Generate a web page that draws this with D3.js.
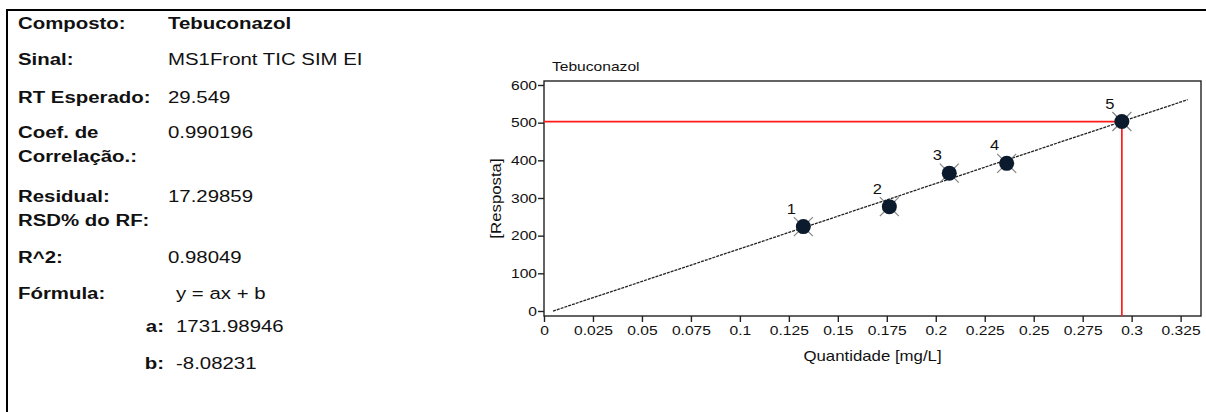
<!DOCTYPE html>
<html>
<head>
<meta charset="utf-8">
<script src="https://cdn.jsdelivr.net/npm/d3@7"></script>
<style>
  html, body { margin: 0; padding: 0; background: #fff; }
  svg { display: block; font-family: "Liberation Sans", Arial, sans-serif; }
</style>
</head>
<body>
<svg id="chart" width="1206" height="412"></svg>
<script>
// Calibration summary
const infoLabels = ["Composto:", "Sinal:", "RT Esperado:", "Coef. de\nCorrelação.:", "Residual:", "RSD% do RF:", "R^2:", "Fórmula:"];
const infoValues = ["Tebuconazol", "MS1Front TIC SIM EI", "29.549", "0.990196", "17.29859", "", "0.98049", "y = ax + b"];
const coefNames = ["a:", "b:"];
const coefValues = [1731.98946, -8.08231];

// Calibration levels
const levels = ["1", "2", "3", "4", "5"];
const quantidade = [0.1324, 0.1763, 0.2069, 0.2362, 0.2950];
const resposta = [224, 277, 366, 392, 503];

// Axis ticks
const xTicks = [0, 0.025, 0.05, 0.075, 0.1, 0.125, 0.15, 0.175, 0.2, 0.225, 0.25, 0.275, 0.3, 0.325];
const yTicks = [0, 100, 200, 300, 400, 500, 600];

// Fitted line extent and the highlighted level
const lineExtent = [0.0046, 0.3286];
const highlight = 4;

// The report font is drawn slightly wide
const SX = 1.2;

const svg = d3.select("#chart");

// Places a text at (x, y) with the wide report lettering
function wideText(parent, x, y, str, opts = {}) {
  const t = parent.append("text")
    .attr("transform", `translate(${x},${y})${opts.rotate ? ` rotate(${opts.rotate})` : ""} scale(${opts.sx || SX},1)`)
    .attr("font-size", opts.size || 13)
    .attr("fill", "#111")
    .text(str);
  if (opts.anchor) t.attr("text-anchor", opts.anchor);
  if (opts.bold) t.attr("font-weight", "bold");
  return t;
}

// Frame (top and left rules)
svg.append("line").attr("x1", 6).attr("x2", 1206).attr("y1", 10).attr("y2", 10)
  .attr("stroke", "#000").attr("stroke-width", 2);
svg.append("line").attr("x1", 7).attr("x2", 7).attr("y1", 9).attr("y2", 412)
  .attr("stroke", "#000").attr("stroke-width", 2);

// Summary table
const info = svg.append("g");
const rowY = [29, 65, 103, 138, 202, 226, 263, 299];
infoLabels.forEach((lab, i) => {
  lab.split("\n").forEach((t, j) => {
    wideText(info, 18, rowY[i] + j * 24, t, { size: 17, bold: true });
  });
  if (infoValues[i]) {
    wideText(info, i === 7 ? 176 : 168, rowY[i], infoValues[i], { size: 17, bold: i === 0 });
  }
});
const coefY = [332, 369];
coefNames.forEach((n, i) => {
  wideText(info, 164, coefY[i], n, { size: 17, bold: true, anchor: "end" });
  wideText(info, 176, coefY[i], coefValues[i], { size: 17 });
});

// Plot area
const plot = { left: 544, right: 1201, top: 81, bottom: 316 };
const x = d3.scaleLinear().domain([0, 0.3354]).range([plot.left, plot.right]);
const y = d3.scaleLinear().domain([-13.3, 610.6]).range([plot.bottom, plot.top]);

const g = svg.append("g");

// Plot frame
g.append("rect").attr("x", plot.left).attr("y", plot.top)
  .attr("width", plot.right - plot.left).attr("height", plot.bottom - plot.top)
  .attr("fill", "#fff").attr("stroke", "#222").attr("stroke-width", 1.4);

// Axes
const xAxis = g.append("g").attr("transform", `translate(0,${plot.bottom})`)
  .call(d3.axisBottom(x).tickValues(xTicks).tickSize(6)
    .tickFormat(d => d3.format("~g")(d)));
const yAxis = g.append("g").attr("transform", `translate(${plot.left},0)`)
  .call(d3.axisLeft(y).tickValues(yTicks).tickSize(6));
[xAxis, yAxis].forEach(a => {
  a.select(".domain").remove();
  a.selectAll("line").attr("stroke", "#222").attr("stroke-width", 1.4);
  a.selectAll("text").attr("font-size", 13).attr("fill", "#111")
    .attr("font-family", "Liberation Sans, Arial, sans-serif");
});
xAxis.selectAll("text").attr("y", 19).attr("dy", 0).attr("transform", `scale(${SX},1)`);
yAxis.selectAll("text").attr("x", -7 / SX).attr("transform", `scale(${SX},1)`);

// Titles
wideText(g, 552, 71, "Tebuconazol", { size: 13 });
wideText(g, (plot.left + plot.right) / 2, 361, "Quantidade [mg/L]", { size: 14, anchor: "middle" });
wideText(g, 501, (plot.top + plot.bottom) / 2, "[Resposta]", { size: 14, anchor: "middle", rotate: -90 });

// Guide lines to the highlighted level
const hx = quantidade[highlight], hy = resposta[highlight];
g.append("line").attr("x1", x(0)).attr("x2", x(hx)).attr("y1", y(hy)).attr("y2", y(hy))
  .attr("stroke", "#ff1a1a").attr("stroke-width", 1.7);
g.append("line").attr("x1", x(hx)).attr("x2", x(hx)).attr("y1", y(hy)).attr("y2", plot.bottom)
  .attr("stroke", "#ff1a1a").attr("stroke-width", 1.7);

// Regression line y = a x + b
const [a, b] = coefValues;
g.append("line")
  .attr("x1", x(lineExtent[0])).attr("y1", y(a * lineExtent[0] + b))
  .attr("x2", x(lineExtent[1])).attr("y2", y(a * lineExtent[1] + b))
  .attr("stroke", "#222").attr("stroke-width", 1.3).attr("stroke-dasharray", "3,1");

// Calibration points
const pts = g.selectAll("g.pt").data(levels).join("g").attr("class", "pt")
  .attr("transform", (d, i) => `translate(${x(quantidade[i])},${y(resposta[i])})`);
pts.append("path").attr("d", "M-9.5,-9.5L9.5,9.5M-9.5,9.5L9.5,-9.5")
  .attr("stroke", "#888").attr("stroke-width", 1.3);
pts.append("circle").attr("r", 7.5).attr("fill", "#0b1a2c");
pts.each(function (d) {
  wideText(d3.select(this), -12, -13, d, { size: 15, anchor: "middle", sx: 1.1 });
});
</script>
</body>
</html>
